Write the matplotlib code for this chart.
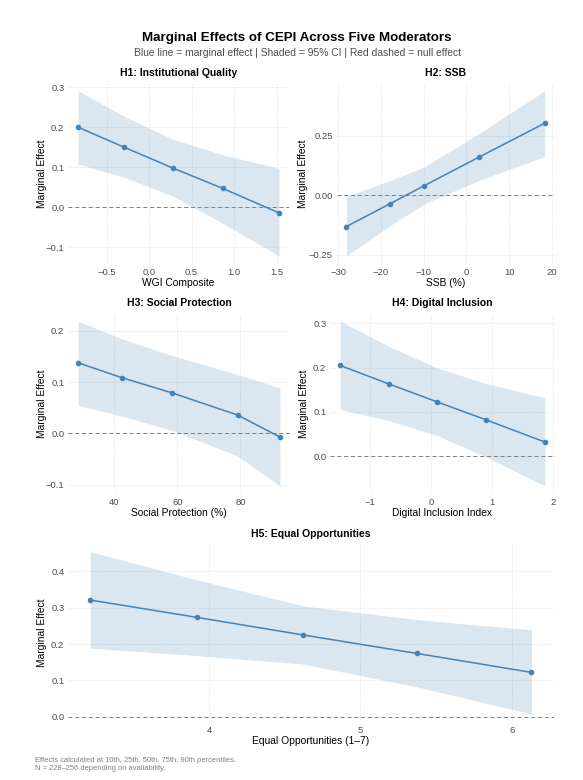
import numpy as np
import matplotlib.pyplot as plt
from matplotlib.ticker import FixedLocator, FuncFormatter

plt.rcParams['font.family'] = ['Liberation Sans', 'DejaVu Sans']

# H1: institutional quality
wgi_x = [-0.835, -0.294, 0.279, 0.867, 1.526]
wgi_me = [0.200, 0.150, 0.098, 0.047, -0.014]
wgi_lo = [0.108, 0.075, 0.028, -0.040, -0.121]
wgi_hi = [0.291, 0.227, 0.170, 0.131, 0.097]

# H2: SSB
ssb_x = [-28.1, -17.8, -10.0, 2.9, 18.3]
ssb_me = [-0.132, -0.035, 0.039, 0.160, 0.303]
ssb_lo = [-0.255, -0.127, -0.038, 0.062, 0.163]
ssb_hi = [-0.006, 0.062, 0.118, 0.259, 0.440]

# H3: social protection
sp_x = [28.5, 42.3, 58.4, 79.1, 92.5]
sp_me = [0.138, 0.109, 0.079, 0.036, -0.007]
sp_lo = [0.055, 0.034, 0.006, -0.044, -0.102]
sp_hi = [0.219, 0.185, 0.152, 0.115, 0.089]

# H4: digital inclusion
di_x = [-1.49, -0.69, 0.09, 0.90, 1.86]
di_me = [0.205, 0.163, 0.123, 0.082, 0.032]
di_lo = [0.106, 0.080, 0.047, -0.002, -0.067]
di_hi = [0.305, 0.248, 0.200, 0.164, 0.132]

# H5: equal opportunities
eo_x = [3.213, 3.923, 4.62, 5.375, 6.13]
eo_me = [0.321, 0.273, 0.225, 0.174, 0.122]
eo_lo = [0.189, 0.168, 0.145, 0.082, 0.008]
eo_hi = [0.454, 0.376, 0.305, 0.267, 0.239]

W, H = 583, 780
LINE = '#4682B4'

def fmt(spec):
    return FuncFormatter(lambda v, p: (spec % v).replace('-', '\u2212'))

def panel(px, x, me, lo, hi, title, xlabel, xticks, yticks, yfmt, xfmt='%g', ylab_x=42):
    x0, x1, y0, y1 = px
    ax = fig.add_axes([x0 / W, 1 - y1 / H, (x1 - x0) / W, (y1 - y0) / H])
    ax.fill_between(x, lo, hi, color=LINE, alpha=0.2, linewidth=0)
    ax.axhline(0, color='#7f7f7f', ls=(0, (4, 3)), lw=0.7)
    ax.plot(x, me, color=LINE, lw=1.1, marker='o', ms=3)
    for s in ax.spines.values():
        s.set_visible(False)
    ax.xaxis.set_major_locator(FixedLocator(xticks))
    ax.yaxis.set_major_locator(FixedLocator(yticks))
    ax.yaxis.set_major_formatter(fmt(yfmt))
    ax.xaxis.set_major_formatter(fmt(xfmt))
    ax.grid(True, color='#dedede', ls=':', lw=0.6)
    ax.set_axisbelow(True)
    ax.tick_params(length=0, labelsize=6.8, colors='#4d4d4d', pad=2.7)
    ax.set_title(title, fontsize=7.5, fontweight='bold', pad=5)
    ax.set_xlabel(xlabel, fontsize=7.4, labelpad=1)
    # y titles are lined up per column, like the original layout
    fig.text(ylab_x / W, 1 - (y0 + y1) / 2 / H, 'Marginal Effect', rotation=90,
             ha='center', va='center', fontsize=7.4)
    ylo = min(lo)
    yhi = max(hi)
    pad = (yhi - ylo) * 0.05
    ax.set_ylim(ylo - pad, yhi + pad)
    xpad = (max(x) - min(x)) * 0.05
    ax.set_xlim(min(x) - xpad, max(x) + xpad)
    return ax

fig = plt.figure(figsize=(W / 100, H / 100), dpi=100)

panel((68, 289, 82.5, 264), wgi_x, wgi_me, wgi_lo, wgi_hi,
      'H1: Institutional Quality', 'WGI Composite',
      [-0.5, 0, 0.5, 1.0, 1.5], [-0.1, 0, 0.1, 0.2, 0.3], '%.1f', '%.1f')
panel((336.5, 554.5, 82.5, 264), ssb_x, ssb_me, ssb_lo, ssb_hi,
      'H2: SSB', 'SSB (%)',
      [-30, -20, -10, 0, 10, 20], [-0.25, 0, 0.25], '%.2f', ylab_x=303.5)
panel((68, 290, 313, 494), sp_x, sp_me, sp_lo, sp_hi,
      'H3: Social Protection', 'Social Protection (%)',
      [40, 60, 80], [-0.1, 0, 0.1, 0.2], '%.1f')
panel((330, 555, 313, 494), di_x, di_me, di_lo, di_hi,
      'H4: Digital Inclusion', 'Digital Inclusion Index',
      [-1, 0, 1, 2], [0, 0.1, 0.2, 0.3], '%.1f', ylab_x=304.5)
panel((68, 553.5, 543.5, 722), eo_x, eo_me, eo_lo, eo_hi,
      'H5: Equal Opportunities', 'Equal Opportunities (1\u20137)',
      [4, 5, 6], [0, 0.1, 0.2, 0.3, 0.4], '%.1f')

fig.text(297 / W, 1 - 38 / H, 'Marginal Effects of CEPI Across Five Moderators',
         ha='center', va='center', fontsize=9.6, fontweight='bold')
fig.text(297 / W, 1 - 53.5 / H,
         'Blue line = marginal effect | Shaded = 95% CI | Red dashed = null effect',
         ha='center', va='center', fontsize=7.4, color='#4d4d4d')
fig.text(35 / W, 1 - 764.5 / H,
         'Effects calculated at 10th, 25th, 50th, 75th, 90th percentiles.\n'
         'N = 228\u2013256 depending on availability.',
         ha='left', va='center', fontsize=5.4, color='#7f7f7f', linespacing=1.25)

fig.savefig('out.png', dpi=100, facecolor='white')
